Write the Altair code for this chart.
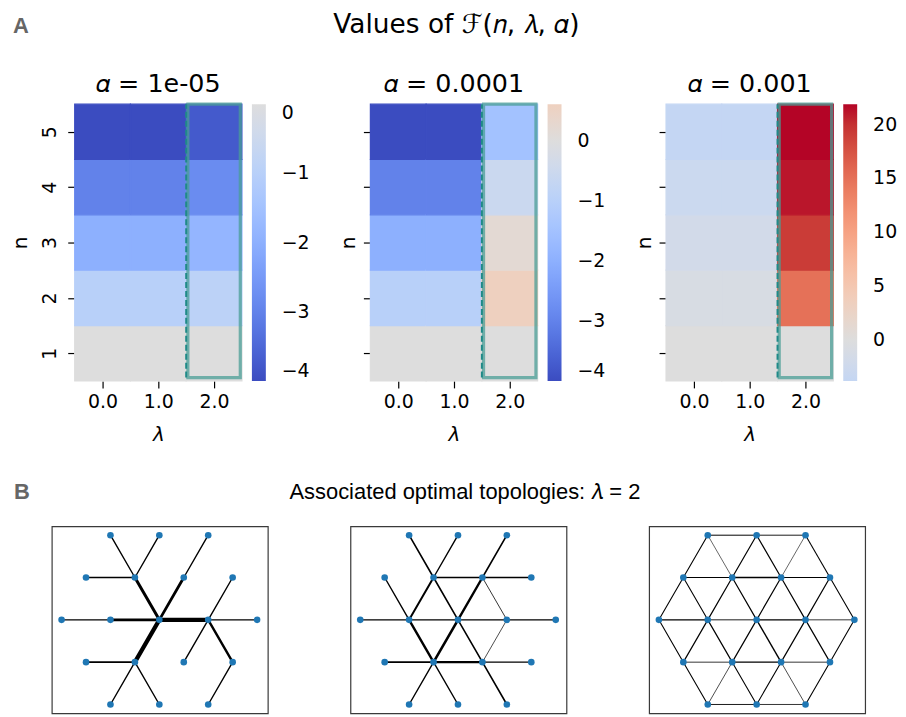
import math
import altair as alt
import pandas as pd

# ---------------- data ----------------
lambdas = [0, 1, 2]
ns = [1, 2, 3, 4, 5]
alpha_titles = ["𝛼 = 1e-05", "𝛼 = 0.0001", "𝛼 = 0.001"]
main_title_a = "Values of ℱ(𝑛, 𝜆, 𝛼)"
main_title_b = "Associated optimal topologies: 𝜆 = 2"
panel_letters = ["A", "B"]
highlight_lambda = 2

# F(n, lambda, alpha), each list is n = 1..5
F_a1_l0 = [0.0, -1.0, -2.0, -3.0, -4.0]
F_a1_l1 = [0.0, -1.0, -2.0, -3.0, -4.0]
F_a1_l2 = [0.0, -0.9, -1.85, -2.8, -3.75]

F_a2_l0 = [0.0, -1.0, -2.0, -3.0, -4.0]
F_a2_l1 = [0.0, -1.0, -2.0, -3.0, -4.0]
F_a2_l2 = [0.0, 0.62, 0.2, -0.55, -1.5]

F_a3_l0 = [0.0, -0.95, -1.9, -2.85, -3.8]
F_a3_l1 = [0.0, -0.95, -1.9, -2.85, -3.8]
F_a3_l2 = [0.0, 15.0, 19.3, 21.2, 21.9]

cbar_ticks_1 = [0, -1, -2, -3, -4]
cbar_ticks_2 = [0, -1, -2, -3, -4]
cbar_ticks_3 = [0, 5, 10, 15, 20]

# hexagonal lattice nodes (column position, row index)
node_names = ["A", "B", "C", "D", "E", "F", "G", "H", "I", "J",
              "K", "L", "M", "N", "O", "P", "Q", "R", "S"]
node_col = [-1, 0, 1, -1.5, -0.5, 0.5, 1.5, -2, -1, 0, 1, 2,
            -1.5, -0.5, 0.5, 1.5, -1, 0, 1]
node_row = [2, 2, 2, 1, 1, 1, 1, 0, 0, 0, 0, 0, -1, -1, -1, -1, -2, -2, -2]

# topology for alpha = 1e-05
edges_1 = ["AE", "BE", "CF", "DE", "EJ", "FJ", "GK", "HI", "IJ", "JK",
           "KL", "JN", "KO", "KP", "MN", "NQ", "NR", "PS"]
widths_1 = [1.4, 1.4, 1.4, 1.6, 3.0, 2.8, 1.4, 1.1, 2.6, 4.2,
            1.1, 4.2, 1.4, 2.4, 1.6, 1.4, 1.4, 1.4]

# topology for alpha = 0.0001
edges_2 = ["AE", "BE", "CF", "DI", "EF", "FG", "EI", "EJ", "FJ", "FK",
           "HI", "IJ", "JK", "KL", "IN", "JN", "JO", "KO", "MN", "NO",
           "OP", "NQ", "NR", "OS"]
widths_2 = [1.6, 1.4, 1.6, 1.4, 1.6, 1.6, 2.0, 1.6, 2.4, 0.8,
            1.1, 1.1, 1.3, 1.3, 2.4, 2.6, 1.6, 0.7, 1.6, 2.1,
            1.4, 1.4, 1.4, 1.6]

# topology for alpha = 0.001 (full triangular lattice)
edges_3 = ["AB", "BC", "DE", "EF", "FG", "HI", "IJ", "JK", "KL", "MN",
           "NO", "OP", "QR", "RS",
           "AD", "AE", "BE", "BF", "CF", "CG",
           "DH", "DI", "EI", "EJ", "FJ", "FK", "GK", "GL",
           "HM", "IM", "IN", "JN", "JO", "KO", "KP", "LP",
           "MQ", "NQ", "NR", "OR", "OS", "PS"]
widths_3 = [1.0, 0.9, 1.1, 1.4, 1.1, 1.1, 0.9, 1.2, 0.8, 0.8,
            1.2, 0.8, 0.9, 0.8,
            1.1, 0.6, 1.2, 1.2, 0.6, 1.1,
            1.1, 1.1, 1.2, 1.2, 1.2, 1.2, 1.2, 1.1,
            1.1, 1.2, 1.2, 1.2, 1.4, 1.2, 1.2, 1.1,
            1.1, 0.7, 1.1, 1.1, 0.7, 1.1]

# matplotlib "coolwarm" anchor colours (33 evenly spaced stops)
COOLWARM = [
    (59, 76, 192), (68, 90, 204), (77, 104, 215), (87, 117, 225), (98, 130, 234),
    (108, 142, 241), (119, 154, 247), (130, 165, 251), (141, 176, 254), (152, 185, 255),
    (163, 194, 255), (174, 201, 253), (184, 208, 249), (194, 213, 244), (204, 217, 238),
    (213, 219, 230), (221, 221, 221), (229, 216, 209), (236, 211, 197), (241, 204, 185),
    (245, 196, 173), (247, 187, 160), (247, 177, 148), (247, 166, 135), (244, 154, 123),
    (241, 141, 111), (236, 127, 99), (229, 112, 88), (222, 96, 77), (213, 80, 66),
    (203, 62, 56), (192, 40, 47), (180, 4, 38)]

FONT = "DejaVu Sans"
HM_W, HM_H = 168, 278
NET_W, NET_H = 217, 188


def cw(t):
    t = min(max(t, 0.0), 1.0)
    pos = t * 32
    i = min(int(pos), 31)
    f = pos - i
    c = [a + (b - a) * f for a, b in zip(COOLWARM[i], COOLWARM[i + 1])]
    return "#%02x%02x%02x" % tuple(int(round(v)) for v in c)


def heat_scale(values):
    vmin, vmax = min(values), max(values)
    vr = max(abs(vmin), abs(vmax))
    to_t = lambda v: (v + vr) / (2 * vr)
    dom, rng = [vmin], [cw(to_t(vmin))]
    for k in range(33):
        v = (k / 16 - 1) * vr
        if vmin + 1e-9 < v < vmax - 1e-9:
            dom.append(v)
            rng.append(cw(k / 32))
    dom.append(vmax)
    rng.append(cw(to_t(vmax)))
    return alt.Scale(domain=dom, range=rng, interpolate="rgb")


def text_layer(txt, font, size, weight, color, align, x, y):
    return alt.Chart(pd.DataFrame({"t": [txt]})).mark_text(
        font=font, fontSize=size, fontWeight=weight, color=color,
        align=align, baseline="alphabetic").encode(
        text="t:N", x=alt.value(x), y=alt.value(y))


def heatmap(cols, title, ticks, first, extra=()):
    rows = []
    for lam, vals in zip(lambdas, cols):
        for n, v in zip(ns, vals):
            rows.append({"lam": lam, "n": n, "F": v})
    df = pd.DataFrame(rows)
    allv = [v for vals in cols for v in vals]
    xs = alt.Scale(domain=[-0.5, 2.5], nice=False, zero=False)
    ys = alt.Scale(domain=[0.5, 5.5], nice=False, zero=False)
    xaxis = alt.Axis(values=lambdas, format=".1f", title="λ", titleFontStyle="italic",
                     labelPadding=5, titlePadding=13)
    if first:
        yaxis = alt.Axis(values=ns, format="d", title="n", labelAngle=270,
                         labelAlign="center", labelBaseline="bottom",
                         labelPadding=8, titlePadding=10)
    else:
        yaxis = alt.Axis(values=ns, labels=False, title="n", titlePadding=4)
    cells = alt.Chart(df).transform_calculate(
        x0="datum.lam - 0.5", x1="datum.lam + 0.5",
        y0="datum.n - 0.5", y1="datum.n + 0.5"
    ).mark_rect(strokeWidth=1.2).encode(
        x=alt.X("x0:Q", scale=xs, axis=xaxis),
        x2="x1:Q",
        y=alt.Y("y0:Q", scale=ys, axis=yaxis),
        y2="y1:Q",
        stroke=alt.Stroke("F:Q", scale=heat_scale(allv), legend=None),
        color=alt.Color("F:Q", scale=heat_scale(allv),
                        legend=alt.Legend(title=None, orient="right", offset=10,
                                          direction="vertical",
                                          gradientLength=HM_H, gradientThickness=14,
                                          gradientStrokeWidth=0, values=ticks,
                                          format="d", labelFont=FONT, labelFontSize=19,
                                          labelColor="black", labelOffset=16,
                                          labelBaseline="middle", labelOverlap=False)),
    )
    hl = pd.DataFrame({"x0": [highlight_lambda - 0.47], "x1": [highlight_lambda + 0.47],
                       "y0": [0.56], "y1": [5.5]})
    box = alt.Chart(hl).mark_rect(fillOpacity=0, stroke="#4a9e96", strokeWidth=3.2,
                                  strokeOpacity=0.75).encode(
        x=alt.X("x0:Q", scale=xs), x2="x1:Q", y=alt.Y("y0:Q", scale=ys), y2="y1:Q")
    dash = alt.Chart(hl).mark_rule(color="#1f8a88", strokeWidth=2,
                                   strokeDash=[6, 3]).encode(
        x=alt.X("xd:Q", scale=xs), y=alt.Y("y0:Q", scale=ys), y2=alt.Y2("yb:Q")
    ).transform_calculate(xd="datum.x0 - 0.03", yb="5.5")
    ttl = text_layer(title, FONT, 25.5, "normal", "black", "center", HM_W / 2, -12.5)
    layers = [cells, box, dash, ttl] + list(extra)
    return alt.layer(*layers).resolve_scale(stroke="independent").properties(
        width=HM_W, height=HM_H)


def network(edges, widths, extra=()):
    sq = math.sqrt(3) / 2
    pos = {nm: (c, r * sq) for nm, c, r in zip(node_names, node_col, node_row)}
    edf = pd.DataFrame({
        "x": [pos[e[0]][0] for e in edges], "y": [pos[e[0]][1] for e in edges],
        "x2": [pos[e[1]][0] for e in edges], "y2": [pos[e[1]][1] for e in edges],
        "w": widths})
    ndf = pd.DataFrame({"x": [pos[n][0] for n in node_names],
                        "y": [pos[n][1] for n in node_names]})
    xs = alt.Scale(domain=[-2.2, 2.22], nice=False, zero=False)
    ys = alt.Scale(domain=[-1.915, 1.915], nice=False, zero=False)
    rules = alt.Chart(edf).mark_rule(color="black", strokeCap="round").encode(
        x=alt.X("x:Q", scale=xs, axis=None), y=alt.Y("y:Q", scale=ys, axis=None),
        x2="x2:Q", y2="y2:Q", strokeWidth=alt.StrokeWidth("w:Q", scale=None))
    nodes = alt.Chart(ndf).mark_circle(size=44, color="#1f77b4", opacity=1).encode(
        x=alt.X("x:Q", scale=xs, axis=None), y=alt.Y("y:Q", scale=ys, axis=None))
    layers = [rules, nodes] + list(extra)
    return alt.layer(*layers).properties(
        width=NET_W, height=NET_H,
        view=alt.ViewBackground(stroke="#3a3a3a", strokeWidth=1.2))


title_a = text_layer(main_title_a, FONT, 26.5, "normal", "black", "center", 383.5, -71)
letter_b = text_layer(panel_letters[1], "Liberation Sans", 22, "bold", "#666666", "left", -38, -27)
title_b = text_layer(main_title_b, "Liberation Sans", 22, "normal", "black", "center", 415, -27)

# narrow column carrying the panel letter "A"
spacer_a = text_layer(panel_letters[0], "Liberation Sans", 22, "bold", "#666666",
                      "left", -39, -71).properties(width=1, height=HM_H)

h1 = heatmap([F_a1_l0, F_a1_l1, F_a1_l2], alpha_titles[0], cbar_ticks_1, True,
             extra=(title_a,))
h2 = heatmap([F_a2_l0, F_a2_l1, F_a2_l2], alpha_titles[1], cbar_ticks_2, False)
h3 = heatmap([F_a3_l0, F_a3_l1, F_a3_l2], alpha_titles[2], cbar_ticks_3, False)

heat_row = alt.hconcat(h1, h2, h3, spacing=129, bounds="flush").resolve_scale(
    color="independent", stroke="independent")
top = alt.hconcat(spacer_a, heat_row, spacing=22, bounds="flush")

n1 = network(edges_1, widths_1, extra=(letter_b, title_b))
n2 = network(edges_2, widths_2)
n3 = network(edges_3, widths_3)

bottom = alt.hconcat(n1, n2, n3, spacing=83, bounds="flush")

chart = alt.concat(top, bottom, columns=1, spacing=36, align="none").properties(
    padding={"left": 2, "top": 3, "right": 0, "bottom": 0}
).configure_view(strokeWidth=0).configure_axis(
    domain=False, grid=False, tickColor="black", tickSize=7, tickWidth=1.2,
    labelFont=FONT, labelFontSize=19, labelColor="black",
    titleFont=FONT, titleFontSize=20, titleFontWeight="normal", titleColor="black")

chart.save("out.html", embed_options={"renderer": "svg", "actions": False})
